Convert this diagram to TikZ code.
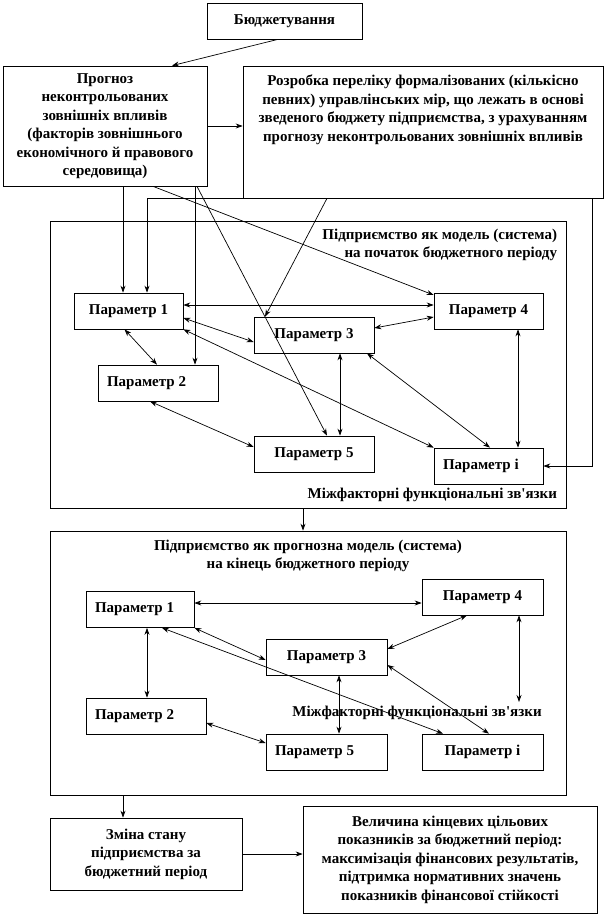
\documentclass[tikz,border=0pt]{standalone}
\usepackage{fontspec}
\setmainfont{Liberation Serif}
\usetikzlibrary{arrows.meta}

\tikzset{
  box/.style={draw, align=center, inner sep=0pt},
  param/.style={draw, minimum height=36pt, inner xsep=9pt, inner ysep=0pt},
  lefttext/.style={align=flush left, text width=#1},
  note/.style={inner sep=0pt}
}

\begin{document}
\begin{tikzpicture}[x=1pt, y=-1pt, line width=0.7pt,
    >={Stealth[length=7pt,width=5pt]},
    font=\bfseries\fontsize{15}{18.5}\selectfont]

  \useasboundingbox (0,0) rectangle (606,917);

  % inputs
  \node[box, minimum width=155pt, minimum height=36pt] (budget) at (284.5,21) {Бюджетування};
  \node[box, minimum width=204pt, minimum height=120pt] (forecast) at (105,126)
    {Прогноз\\неконтрольованих\\зовнішніх впливів\\(факторів зовнішнього\\економічного й правового\\середовища)};
  \node[box, minimum width=360pt, minimum height=132pt] (measures) at (423,132) {};
  \node[note, align=center, anchor=north] at ([yshift=-9pt]measures.north)
    {Розробка переліку формалізованих (кількісно\\певних) управлінських мір, що лежать в основі\\зведеного бюджету підприємства, з урахуванням\\прогнозу неконтрольованих зовнішніх впливів};

  % frames
  \node[draw, minimum width=516pt, minimum height=287pt] (start) at (308,364.5) {};
  \node[draw, minimum width=516pt, minimum height=264pt] (finish) at (308,663) {};
  \node[note, align=right, anchor=north east] at ([xshift=-9pt,yshift=-8pt]start.north east)
    {Підприємство як модель (система)\\на початок бюджетного періоду};
  \node[note, anchor=east] at ([xshift=-9pt,yshift=13pt]start.south east)
    {Міжфакторні функціональні зв\textquotesingle язки};
  \node[note, align=center, anchor=north] at ([yshift=-9pt]finish.north)
    {Підприємство як прогнозна модель (система)\\на кінець бюджетного періоду};
  \node[note, anchor=east] at (542,713) {Міжфакторні функціональні зв\textquotesingle язки};

  % parameters
  \begin{scope}[every node/.style={param}]
    \node[minimum width=109pt] (a1) at (128.5,311) {Параметр 1};
    \node[minimum width=120pt, lefttext=102pt] (a2) at (158,383) {Параметр 2};
    \node[minimum width=120pt] (a3) at (314,335) {Параметр 3};
    \node[minimum width=109pt] (a4) at (488.5,311) {Параметр 4};
    \node[minimum width=120pt] (a5) at (314,454) {Параметр 5};
    \node[minimum width=109pt, lefttext=91pt] (ai) at (488.5,466) {Параметр і};

    \node[minimum width=108pt, lefttext=90pt] (b1) at (140,609.5) {Параметр 1};
    \node[minimum width=120pt, lefttext=102pt] (b2) at (146,716) {Параметр 2};
    \node[minimum width=121pt] (b3) at (326.5,657) {Параметр 3};
    \node[minimum width=121pt] (b4) at (482.5,597) {Параметр 4};
    \node[minimum width=121pt, lefttext=103pt] (b5) at (326.5,752) {Параметр 5};
    \node[minimum width=121pt] (bi) at (482.5,752) {Параметр і};
  \end{scope}

  % outcome
  \node[box, minimum width=192pt, minimum height=72pt] (change) at (146,854)
    {Зміна стану\\підприємства за\\бюджетний період};
  \node[box, minimum width=294pt, minimum height=107pt] (result) at (450,859.5)
    {Величина кінцевих цільових\\показників за бюджетний період:\\максимізація фінансових результатів,\\підтримка нормативних значень\\показників фінансової стійкості};

  % free ends
  \coordinate (loopl) at (147,198);
  \coordinate (loopr) at (592,198);
  \coordinate (b4tip) at (519,702);
  \coordinate (drop) at (123,0);

  \draw[->] ([xshift=-6.5pt]budget.south) -- ([xshift=67pt]forecast.north);
  \draw[->] (forecast.east) -- (forecast.east -| measures.west);

  \begin{scope}[every edge/.style={draw,->}]
    \path ([xshift=18pt]forecast.south) edge ([xshift=-5.5pt]a1.north);
    \path ([xshift=90pt]forecast.south) edge ([xshift=37pt]a2.north);
    \path ([xshift=48pt]forecast.south) edge ([yshift=16pt]a4.west);
    \path ([xshift=92pt]forecast.south) edge ([xshift=13pt]a5.north);
    \path ([xshift=-96pt]measures.south) edge ([xshift=-49pt]a3.north);
  \end{scope}
  \draw[<->] (loopl |- a1.north) -- (loopl) -- (loopr) |- (ai.east);

  \begin{scope}[every edge/.style={draw,<->}]
    \path ([yshift=6pt]a1.east) edge ([yshift=6pt]a4.west);
    \path ([yshift=-7pt]a1.east) edge ([yshift=-7pt]a3.west);
    \path (a1.south east) edge (ai.north west);
    \path ([xshift=-4pt]a1.south) edge ([xshift=-1pt]a2.north);
    \path ([xshift=-8pt]a2.south) edge ([yshift=7pt]a5.west);
    \path ([yshift=7pt]a3.east) edge ([yshift=-6pt]a4.west);
    \path ([xshift=26pt]a3.south) edge ([xshift=26pt]a5.north);
    \path ([xshift=53pt]a3.south) edge ([xshift=1.5pt]ai.north);
    \path ([xshift=29.5pt]a4.south) edge ([xshift=29.5pt]ai.north);

    \path ([yshift=6.5pt]b1.east) edge ([yshift=-6pt]b4.west);
    \path ([xshift=7pt]b1.south) edge ([xshift=1pt]b2.north);
    \path (b1.south east) edge ([yshift=-3pt]b3.west);
    \path ([xshift=22pt]b1.south) edge ([xshift=-39.5pt]bi.north);
    \path ([yshift=-7pt]b2.east) edge ([yshift=9pt]b5.west);
    \path ([yshift=8pt]b3.east) edge ([xshift=-15.5pt]b4.south);
    \path ([xshift=12.5pt]b3.south) edge ([xshift=12.5pt]b5.north);
    \path ([yshift=-8pt]b3.east) edge ([xshift=6.5pt]bi.north);
    \path ([xshift=36.5pt]b4.south) edge (b4tip);
  \end{scope}

  \draw[->] ([xshift=-5pt]start.south) -- ([xshift=-5pt]finish.north);
  \draw[->] (drop |- finish.south) -- (drop |- change.north);
  \draw[->] (change.east) -- (change.east -| result.west);

\end{tikzpicture}
\end{document}
